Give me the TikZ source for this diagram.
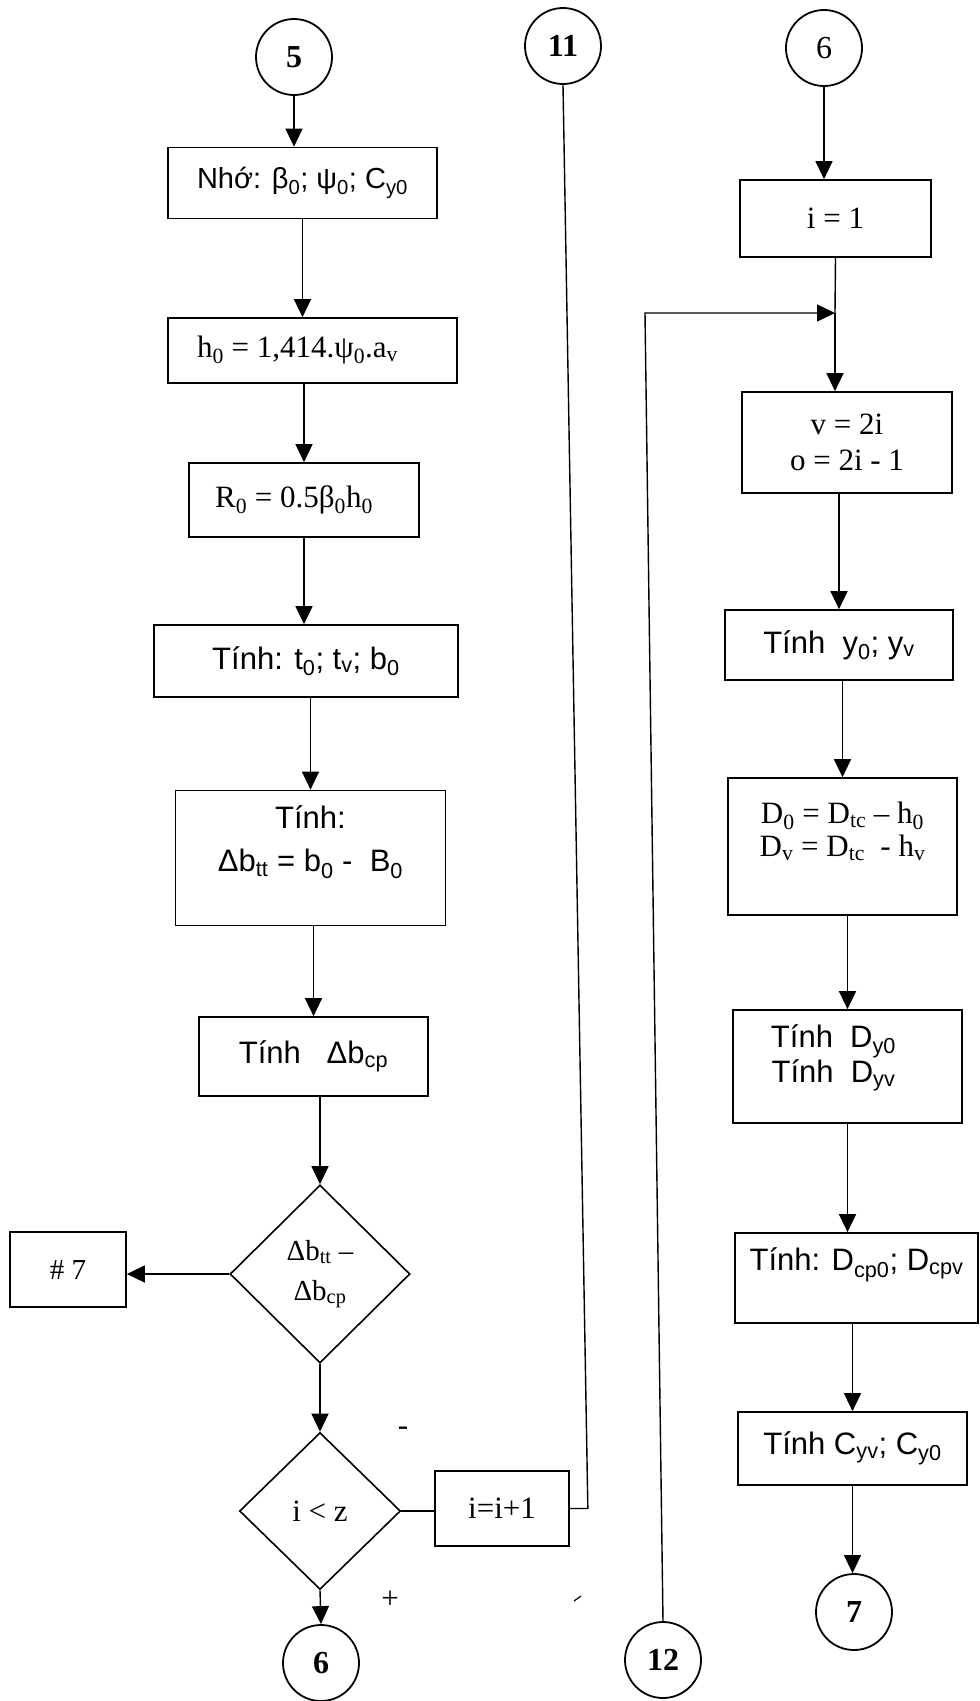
\documentclass[tikz,border=0pt]{standalone}
\usepackage{fontspec}
\setmainfont{Liberation Serif}
\setsansfont{Liberation Sans}
\usetikzlibrary{arrows.meta,shapes.geometric}
\tikzset{
  blk/.style={draw=black,line width=1.7pt,inner sep=0pt},           % process box
  sz/.style 2 args={minimum width=#1pt,minimum height=#2pt},
  dec/.style={diamond,draw=black,line width=1.6pt,inner sep=0pt,align=center,
              font=\fontsize{29}{40}\selectfont},                   % decision
  conn/.style={circle,draw=black,line width=1.8pt,minimum size=76pt,inner sep=0pt,
               font=\bfseries\fontsize{32}{32}\selectfont},         % page connector
  stxt/.style={font=\sffamily\fontsize{31}{36}\selectfont,align=center},
  rtxt/.style={font=\fontsize{31}{36}\selectfont,align=center},
  arr/.style={-{Triangle[length=18pt,width=17pt]},line width=1.4pt},
  wire/.style={line width=1.4pt},
}

\begin{document}
\begin{tikzpicture}[x=1pt,y=-1pt]
  \fill[white] (0,0) rectangle (980,1701);
  \useasboundingbox (0,0) rectangle (980,1701);
  % left column
  \node[conn] (c5) at (294,57) {5};
  \node[blk,stxt,sz={269}{71},font=\sffamily\fontsize{29}{34}\selectfont] (b1) at (302.5,183) {Nhớ: β\textsubscript{0}; ψ\textsubscript{0}; C\textsubscript{y0}};
  \node[blk,sz={289}{65}] (b2) at (312.5,350.5) {};
  \node[rtxt] (b2t) at ([xshift=-15pt]b2.center) {h\textsubscript{0} = 1,414.ψ\textsubscript{0}.a\textsubscript{v}};
  \node[blk,sz={230}{74}] (b3) at (304,500) {};
  \node[rtxt] (b3t) at ([xshift=-10pt]b3.center) {R\textsubscript{0} = 0.5β\textsubscript{0}h\textsubscript{0}};
  \node[blk,stxt,sz={304}{72}] (b4) at (306,661) {Tính: t\textsubscript{0}; t\textsubscript{v}; b\textsubscript{0}};
  \node[blk,sz={270}{135}] (b5) at (310.5,858) {};
  \node[stxt,font=\sffamily\fontsize{31}{43}\selectfont] (b5t) at ([yshift=16pt]b5.center) {Tính:\\Δb\textsubscript{tt} = b\textsubscript{0} -~~B\textsubscript{0}};
  \node[blk,stxt,sz={229}{79}] (b6) at (313.5,1056.5) {Tính~~~Δb\textsubscript{cp}};
  \node[dec,sz={180}{178}] (d1) at (320,1274) {Δb\textsubscript{tt} –\\Δb\textsubscript{cp}};
  \node[blk,rtxt,sz={116}{75},font=\fontsize{29}{34}\selectfont] (b7) at (68,1269.5) {\# 7};
  \node[dec,sz={161}{157},font=\fontsize{31}{36}\selectfont] (d2) at (320,1511) {i < z};
  \node[blk,rtxt,sz={134}{75}] (b8) at (502,1508.5) {i=i+1};
  \node[conn] (c6a) at (321,1663) {6};
  \node[rtxt] (mn) at (403,1431) {-};
  \node[rtxt] (pl) at (390,1600) {+};
  \draw[line width=1.2pt] (574,1601) -- (581,1596);
  % middle
  \node[conn] (c11) at (563,46) {11};
  \node[conn] (c12) at (663,1660) {12};
  \coordinate (lp) at (645,313);
  \coordinate (jn) at (835,313);
  % right column
  \node[conn,font=\fontsize{32}{32}\selectfont] (c6b) at (824,48) {6};
  \node[blk,rtxt,sz={191}{77}] (r1) at (835.5,218.5) {i = 1};
  \node[blk,rtxt,sz={210}{101}] (r2) at (847,442.5) {v = 2i\\o = 2i - 1};
  \node[blk,stxt,sz={228}{70}] (r3) at (839,645) {Tính~~y\textsubscript{0}; y\textsubscript{v}};
  \node[blk,sz={229}{137}] (r4) at (842.5,846.5) {};
  \node[rtxt,font=\fontsize{31}{33}\selectfont] (r4t) at ([yshift=15pt]r4.center) {D\textsubscript{0} = D\textsubscript{tc} – h\textsubscript{0}\\D\textsubscript{v} = D\textsubscript{tc}~~- h\textsubscript{v}};
  \node[blk,sz={229}{113}] (r5) at (847.5,1066.5) {};
  \node[stxt,font=\sffamily\fontsize{31}{35}\selectfont] (r5t) at ([xshift=-14pt,yshift=9pt]r5.center) {Tính~~D\textsubscript{y0}\\Tính~~D\textsubscript{yv}};
  \node[blk,sz={243}{90}] (r6) at (856.5,1278) {};
  \node[stxt] (r6t) at ([yshift=13pt]r6.center) {Tính: D\textsubscript{cp0}; D\textsubscript{cpv}};
  \node[blk,stxt,sz={229}{73}] (r7) at (852.5,1448.5) {Tính C\textsubscript{yv}; C\textsubscript{y0}};
  \node[conn] (c7) at (854,1612) {7};

  \draw[arr] (c5) -- (c5 |- b1.north);
  \draw[arr] (b1.south) -- (b1.south |- b2.north);
  \draw[arr] (b3.north |- b2.south) -- (b3.north);
  \draw[arr] (b3.south) -- (b3.south |- b4.north);
  \draw[arr] (b5.north |- b4.south) -- (b5.north);
  \draw[arr] (b6.north |- b5.south) -- (b6.north);
  \draw[arr] (d1.north |- b6.south) -- (d1.north);
  \draw[arr] (d1.south) -- (d2.north);
  \draw[arr] (d2.south) -- (c6a.north);
  \draw[arr] (d1.west) -- (d1.west -| b7.east);
  \draw[wire] (d2.east) -- (d2.east -| b8.west);
  \draw[wire] (b8.east) -- ++(18,0) -- (c11.south);
  \draw[arr] (c6b.south) -- (c6b.south |- r1.north);
  \draw[wire] (r1.south) -- (jn);
  \draw[arr] (c12.north) -- (lp) -- (jn);
  \draw[arr] (jn) -- (jn |- r2.north);
  \draw[arr] (r3.north |- r2.south) -- (r3.north);
  \draw[arr] (r4.north |- r3.south) -- (r4.north);
  \draw[arr] (r5.north |- r4.south) -- (r5.north);
  \draw[arr] (r5.south) -- (r5.south |- r6.north);
  \draw[arr] (r7.north |- r6.south) -- (r7.north);
  \draw[arr] (r7.south) -- (r7.south |- c7.north);
\end{tikzpicture}
\end{document}
